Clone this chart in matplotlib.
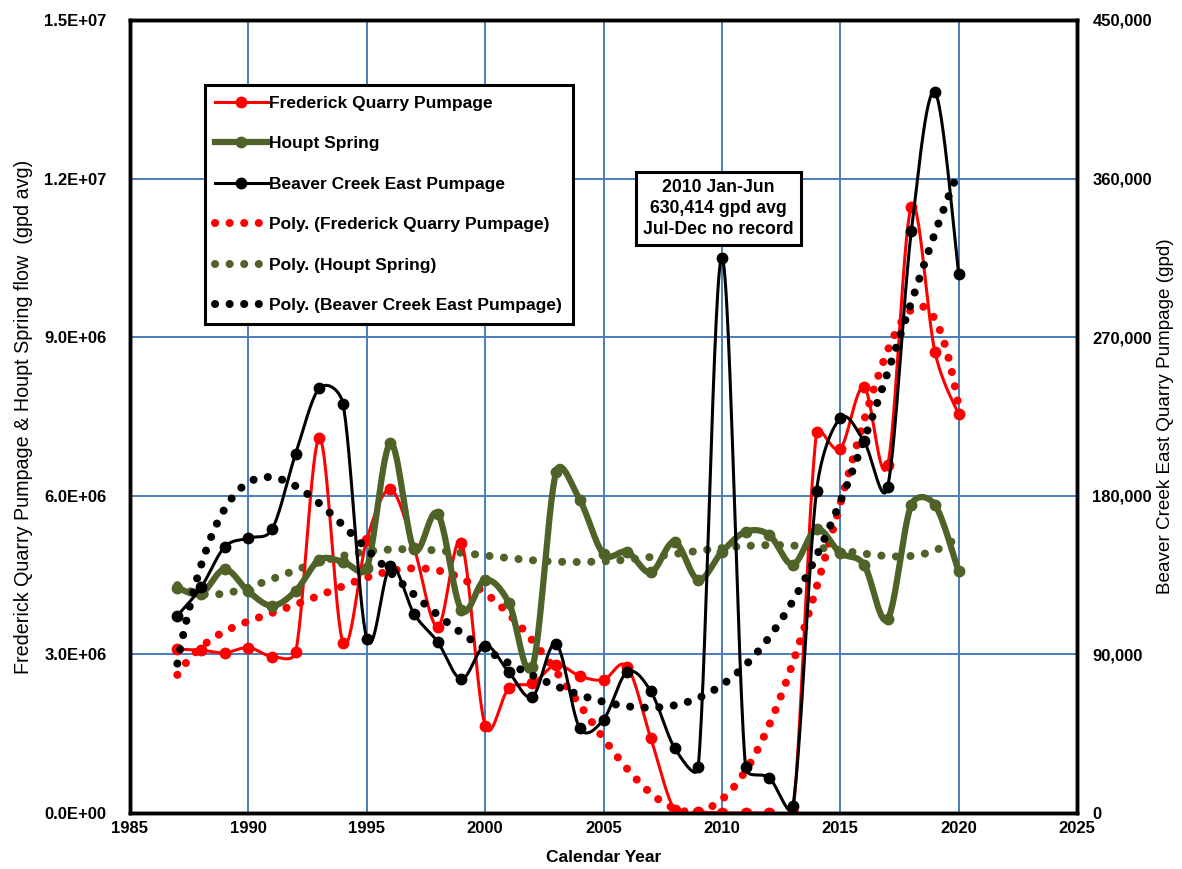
import numpy as np
import matplotlib
matplotlib.use('Agg')
import matplotlib.pyplot as plt
from matplotlib.font_manager import FontProperties
from matplotlib.ticker import FuncFormatter, MultipleLocator
from matplotlib.lines import Line2D

years = list(range(1987, 2021))

# gpd avg, left axis
frederick = [3.10e6, 3.08e6, 3.03e6, 3.13e6, 2.96e6, 3.05e6, 7.09e6, 3.22e6, 5.17e6, 6.12e6,
             5.01e6, 3.52e6, 5.11e6, 1.65e6, 2.36e6, 2.45e6, 2.80e6, 2.59e6, 2.52e6, 2.77e6,
             1.41e6, 0.06e6, 0.02e6, 0.0, 0.0, 0.0, 0.0, 7.20e6, 6.89e6, 8.06e6,
             6.58e6, 11.46e6, 8.72e6, 7.54e6]
houpt = [4.26e6, 4.15e6, 4.61e6, 4.19e6, 3.92e6, 4.20e6, 4.79e6, 4.75e6, 4.63e6, 6.99e6,
         4.99e6, 5.66e6, 3.84e6, 4.41e6, 3.98e6, 2.77e6, 6.45e6, 5.92e6, 4.90e6, 4.94e6,
         4.55e6, 5.13e6, 4.41e6, 4.94e6, 5.32e6, 5.26e6, 4.70e6, 5.37e6, 4.92e6, 4.70e6,
         3.67e6, 5.83e6, 5.83e6, 4.57e6]
# gpd, right axis
beaver = [112000, 128000, 151000, 156000, 161000, 204000, 241000, 232000, 99000, 140000,
          113000, 97000, 76000, 95000, 80000, 66000, 96000, 48000, 53000, 80000,
          69000, 37000, 26000, 315207, 26000, 20000, 4000, 183000, 224000, 211000,
          185000, 330000, 409000, 306000]

RED = '#ff0000'
GREEN = '#4f6228'
BLACK = '#000000'
GRID = '#4a7ebb'

XMIN, XMAX = 1985, 2025
YMAX_L, YMAX_R = 1.5e7, 450000
AX_W_PX, AX_H_PX = 947.0, 793.0


def smooth(x, y, ymax, n=30, cap=0.5):
    # bezier smoothing done in pixel units so the control arms can be
    # kept shorter than half of the segment they belong to
    sx = AX_W_PX / (XMAX - XMIN)
    sy = AX_H_PX / ymax
    x = np.asarray(x, float) * sx
    y = np.asarray(y, float) * sy
    px = np.concatenate([[x[0]], x, [x[-1]]])
    py = np.concatenate([[y[0]], y, [y[-1]]])
    t = np.linspace(0, 1, n)
    xs, ys = [], []
    for i in range(len(x) - 1):
        p0 = np.array([px[i], py[i]])
        p1 = np.array([px[i + 1], py[i + 1]])
        p2 = np.array([px[i + 2], py[i + 2]])
        p3 = np.array([px[i + 3], py[i + 3]])
        seg = np.hypot(*(p2 - p1))
        a1 = (p2 - p0) / 6.0
        a2 = (p3 - p1) / 6.0
        for a in (a1, a2):
            ln = np.hypot(*a)
            if ln > cap * seg and ln > 0:
                a *= cap * seg / ln
        c1 = p1 + a1
        c2 = p2 - a2
        b = ((1 - t) ** 3)[:, None] * p1 + (3 * (1 - t) ** 2 * t)[:, None] * c1 \
            + (3 * (1 - t) * t ** 2)[:, None] * c2 + (t ** 3)[:, None] * p2
        xs.extend(b[:, 0])
        ys.extend(b[:, 1])
    return np.array(xs) / sx, np.array(ys) / sy


def poly_trend(x, y, order=6):
    x = np.asarray(x, float)
    xc = x - x.mean()
    coef = np.polyfit(xc, y, order)
    xx = np.linspace(x[0], x[-1], 400)
    return xx, np.polyval(coef, xx - x.mean())


fig = plt.figure(figsize=(11.82, 8.69), dpi=100)
ax = fig.add_axes([130 / 1182, 56 / 869, AX_W_PX / 1182, AX_H_PX / 869])
ax2 = ax.twinx()

dot_style = dict(linestyle=(0, (0.01, 1.8)), dash_capstyle='round', linewidth=5.8)

tx, ty = poly_trend(years, frederick)
ax.plot(tx, ty, color=RED, zorder=2, **dot_style)
tx, ty = poly_trend(years, houpt)
ax.plot(tx, ty, color=GREEN, zorder=2, **dot_style)

sx, sy = smooth(years, frederick, YMAX_L)
ax.plot(sx, sy, color=RED, lw=2.2, zorder=3)
ax.plot(years, frederick, 'o', color=RED, ms=7.5, zorder=3)
sx, sy = smooth(years, houpt, YMAX_L)
ax.plot(sx, sy, color=GREEN, lw=4.5, zorder=3)
ax.plot(years, houpt, 'o', color=GREEN, ms=7.5, zorder=3)

tx, ty = poly_trend(years, beaver)
ax2.plot(tx, ty, color=BLACK, zorder=2, **dot_style)
sx, sy = smooth(years, beaver, YMAX_R)
ax2.plot(sx, sy, color=BLACK, lw=2.2, zorder=3)
ax2.plot(years, beaver, 'o', color=BLACK, ms=7.5, zorder=3)

ax.set_xlim(XMIN, XMAX)
ax.set_ylim(0, YMAX_L)
ax2.set_ylim(0, YMAX_R)
ax.xaxis.set_major_locator(MultipleLocator(5))
ax.yaxis.set_major_locator(MultipleLocator(3e6))
ax2.yaxis.set_major_locator(MultipleLocator(90000))
ax.grid(True, color=GRID, lw=1.4)
ax.set_axisbelow(True)

ax.yaxis.set_major_formatter(FuncFormatter(lambda v, p: '%.1E' % v))
ax2.yaxis.set_major_formatter(FuncFormatter(lambda v, p: '{:,.0f}'.format(v)))

tick_fp = FontProperties(family='Liberation Sans', weight='bold', size=12)
for lab in ax.get_xticklabels() + ax.get_yticklabels() + ax2.get_yticklabels():
    lab.set_fontproperties(tick_fp)
ax.tick_params(axis='y', length=0, pad=17)
ax.tick_params(axis='x', length=0, pad=6)
ax2.tick_params(axis='y', length=0, pad=11)

for a in (ax, ax2):
    for s in a.spines.values():
        s.set_linewidth(2.5)
        s.set_color('black')

ax.set_xlabel('Calendar Year', fontproperties=FontProperties(family='Liberation Sans', weight='bold', size=12.5),
              labelpad=10)
ax.set_ylabel('Frederick Quarry Pumpage & Houpt Spring flow  (gpd avg)',
              fontproperties=FontProperties(family='Liberation Sans', size=14.2), labelpad=8)
ax2.set_ylabel('Beaver Creek East Quarry Pumpage (gpd)',
               fontproperties=FontProperties(family='Liberation Sans', size=13.6), labelpad=4)

handles = [
    Line2D([], [], color=RED, lw=2.2, marker='o', ms=7.5),
    Line2D([], [], color=GREEN, lw=4.5, marker='o', ms=7.5),
    Line2D([], [], color=BLACK, lw=2.2, marker='o', ms=7.5),
    Line2D([], [], color=RED, **dot_style),
    Line2D([], [], color=GREEN, **dot_style),
    Line2D([], [], color=BLACK, **dot_style),
]
labels = ['Frederick Quarry Pumpage', 'Houpt Spring', 'Beaver Creek East Pumpage',
          'Poly. (Frederick Quarry Pumpage)', 'Poly. (Houpt Spring)',
          'Poly. (Beaver Creek East Pumpage)']
leg = ax2.legend(handles, labels, loc='upper left', bbox_to_anchor=(0.0792, 0.918),
                 prop=FontProperties(family='Liberation Sans', weight='bold', size=12.5),
                 frameon=True, fancybox=False, edgecolor='black', framealpha=1,
                 handlelength=3.0, handletextpad=0.1, labelspacing=1.46,
                 borderpad=0.6, borderaxespad=0)
leg.get_frame().set_linewidth(2.2)
leg.set_zorder(10)

ax2.annotate('2010 Jan-Jun\n630,414 gpd avg\nJul-Dec no record', xy=(2009.85, 343000),
             ha='center', va='center', fontsize=12.7, fontweight='bold', family='Liberation Sans',
             linespacing=1.28, zorder=10,
             bbox=dict(boxstyle='square,pad=0.4', fc='white', ec='black', lw=2.2))

fig.savefig('out.png', dpi=100)
